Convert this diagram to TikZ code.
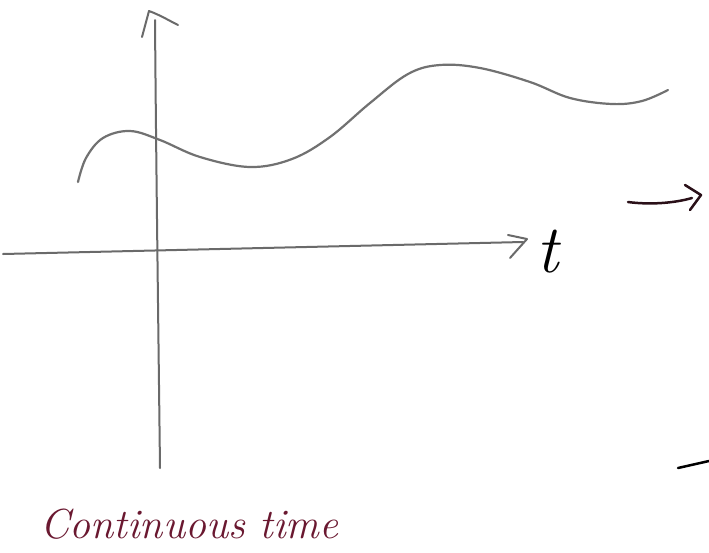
\documentclass[tikz,border=0pt]{standalone}
\usetikzlibrary{calc}
\definecolor{pencil}{HTML}{6A6A6A}
\definecolor{inkred}{HTML}{6A1830}
\definecolor{inkdark}{HTML}{2A1018}
\tikzset{
  axisline/.style={draw=pencil, line width=2pt, line cap=round, line join=round},
  signal/.style={draw=pencil!95, line width=2.2pt, line cap=round, smooth, tension=0.6},
  inkline/.style={draw=inkdark, line width=2.5pt, line cap=round, line join=round},
  handtext/.style={inner sep=0pt, text=inkred, font=\fontsize{42}{44}\selectfont\itshape},
  labeltext/.style={inner sep=0pt, text=black, font=\fontsize{68}{70}\selectfont\itshape}
}
\begin{document}
\begin{tikzpicture}[x=1pt,y=-1pt]
\useasboundingbox[fill=white] (0,0) rectangle (709,552);
% vertical axis
\coordinate (vbot) at (160,468);
\coordinate (vtop) at (155,20);
\draw[axisline] (vbot) .. controls (158,300) and (156,150) .. (vtop);
\coordinate (vl) at (142,37);
\coordinate (vtip) at (149,11);
\coordinate (vr) at (178,25);
\draw[axisline] (vl) -- (vtip) .. controls (160,15) and (168,20) .. (vr);
% horizontal axis
\coordinate (hleft) at (3,254);
\coordinate (hright) at (523,242);
\draw[axisline] (hleft) -- (hright);
\coordinate (hu) at (508,235);
\coordinate (htip) at (527,239);
\coordinate (hd) at (510,258);
\draw[axisline] (hu) -- (htip) -- (hd);
\node[labeltext, anchor=base] (tlabel) at (548,272) {t};
% signal
\draw[signal] plot coordinates {(78,182) (86,158) (103,138) (130,131) (160,140) (200,157) (250,167) (292,159) (330,137) (370,103) (408,74) (440,65) (480,68) (530,82) (570,98) (612,104) (642,101) (668,90)};
% right arrow
\coordinate (ra) at (628,202);
\coordinate (rb) at (692,198);
\draw[inkline] (ra) .. controls (650,205) and (675,203) .. (rb);
\coordinate (rh1) at (685,185);
\coordinate (rtip) at (701,195);
\coordinate (rh2) at (690,210);
\draw[inkline] (rh1) -- (rtip) -- (rh2);
% bottom right stroke
\coordinate (bra) at (678,468);
\coordinate (brb) at (709,461);
\draw[inkline, draw=black] (bra) -- (brb);
% caption
\node[handtext, anchor=base west] (caption) at (40,538) {Continuous time};
\end{tikzpicture}
\end{document}
